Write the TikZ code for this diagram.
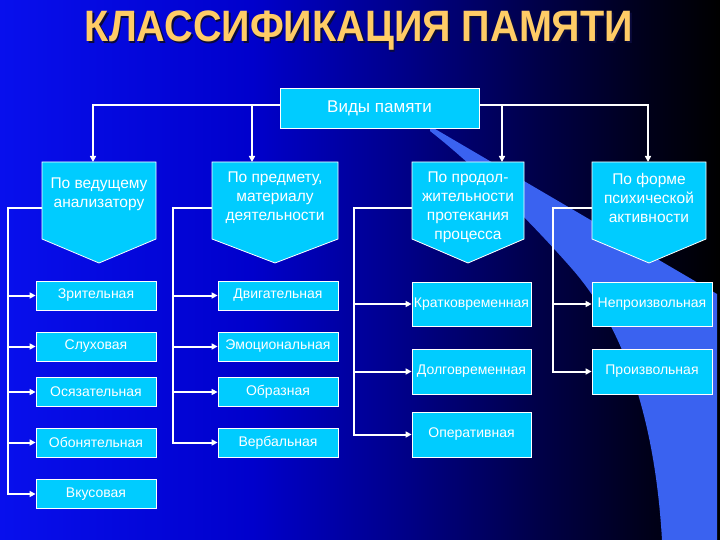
\documentclass[tikz,border=0pt]{standalone}
\usepackage{fontspec}
\setmainfont{Liberation Sans}
\usepackage{graphicx}
\usetikzlibrary{arrows.meta}

\definecolor{boxfill}{RGB}{0,204,255}
\definecolor{titlecol}{RGB}{255,204,102}
\definecolor{shadowcol}{RGB}{10,10,60}
\definecolor{bandcol}{RGB}{58,98,240}
\pgfdeclarehorizontalshading{bgshade}{100bp}{rgb(0bp)=(0.03,0.06,0.93); rgb(25bp)=(0.03,0.06,0.93); rgb(42.5bp)=(0,0,0.8); rgb(52.5bp)=(0,0,0.55); rgb(62.5bp)=(0,0,0.28); rgb(70bp)=(0,0,0.1); rgb(75bp)=(0,0,0); rgb(100bp)=(0,0,0)}
\newcommand{\hlines}[1]{\begin{tabular}[t]{@{}c@{}}#1\end{tabular}}
\newcommand{\shadowed}[1]{\rlap{\kern2pt\raisebox{-2pt}{\textcolor{shadowcol}{#1}}}\textcolor{titlecol}{#1}}

\begin{document}
\begin{tikzpicture}[x=1pt, y=-1pt,
    membox/.style={rectangle, draw=white, line width=0.8pt, fill=boxfill, text=white, font=\fontsize{14}{17}\selectfont, minimum width=120pt, minimum height=29pt, inner sep=0pt},
    headbox/.style={rectangle, text=white, font=\fontsize{15.5}{19}\selectfont, inner sep=0pt, anchor=north},
    titletext/.style={font=\fontsize{44}{50}\selectfont\bfseries, anchor=base, inner sep=0pt},
    wire/.style={draw=white, line width=2pt},
    arr/.style={wire, -{Triangle[length=6pt,width=6pt]}}
]
    % background
    \shade[shading=bgshade] (0,0) rectangle (720,540);
    \fill[bandcol] (430,126) -- (717,294) -- (717,540) -- (662,540)
        .. controls (655,420) and (625,330) .. (573,270)
        .. controls (540,232) and (480,170) .. (430,131) -- cycle;

    % title
    \node[titletext] (title) at (359,42) {\scalebox{0.9}[1]{\shadowed{КЛАССИФИКАЦИЯ ПАМЯТИ}}};

    \node[membox, minimum width=199pt, minimum height=40pt, font=\fontsize{17}{20}\selectfont] (v) at (379.5,108) {Виды памяти};

    % headers
    \foreach \n/\x/\hw/\hgt/\dpt/\txt in {1/99/57/26pt/51pt/{По ведущему\\анализатору},
        2/275/63/20pt/57pt/{По предмету,\\материалу\\деятельности},
        3/468/56/20pt/57pt/{По продол-\\жительности\\протекания\\процесса},
        4/649/57/22pt/55pt/{По форме\\психической\\активности}} {
        \filldraw[draw=white, line width=0.8pt, fill=boxfill] (\x-\hw,162) -- (\x+\hw,162)
            -- (\x+\hw,239) -- (\x,263) -- (\x-\hw,239) -- cycle;
        \node[headbox, minimum width={2*\hw}, text height=\hgt, text depth=\dpt] (h\n) at (\x,162) {\hlines{\txt}};
    }

    % column 1
    \node[membox] (z1) at (96,295.5) {Зрительная};
    \node[membox] (z2) at (96,346.5) {Слуховая};
    \node[membox] (z3) at (96,392) {Осязательная};
    \node[membox] (z4) at (96,442.5) {Обонятельная};
    \node[membox] (z5) at (96,494) {Вкусовая};
    % column 2
    \node[membox] (d1) at (278,295.5) {Двигательная};
    \node[membox] (d2) at (278,346.5) {Эмоциональная};
    \node[membox] (d3) at (278,392) {Образная};
    \node[membox] (d4) at (278,442.5) {Вербальная};
    % column 3
    \node[membox, minimum width=119pt, minimum height=44pt] (k1) at (471.5,304) {Кратковременная};
    \node[membox, minimum width=119pt, minimum height=45pt] (k2) at (471.5,371.5) {Долговременная};
    \node[membox, minimum width=119pt, minimum height=45pt] (k3) at (471.5,434.5) {Оперативная};
    % column 4
    \node[membox, minimum height=44pt] (f1) at (652,304) {Непроизвольная};
    \node[membox, minimum height=45pt] (f2) at (652,371.5) {Произвольная};

    % top connectors
    \coordinate (busl) at ([yshift=3pt]v.west);
    \coordinate (busr) at ([yshift=3pt]v.east);
    \coordinate (a2) at ([xshift=-23pt]h2.north);
    \coordinate (a3) at ([xshift=34pt]h3.north);
    \draw[arr] (busl) -| ([xshift=-6pt]h1.north);
    \draw[arr] (busl -| a2) -- (a2);
    \draw[arr] (busr) -| ([xshift=-1pt]h4.north);
    \draw[arr] (busr -| a3) -- (a3);

    % side connectors
    \coordinate (x1) at (8,0);
    \coordinate (x2) at (173,0);
    \coordinate (x3) at (354,0);
    \coordinate (x4) at (553,0);
    \draw[arr] ([yshift=-7pt]h1.west) -| (x1 |- z5.west) -- (z5.west);
    \foreach \b in {z1,z2,z3,z4}
        \draw[arr] (x1 |- \b.west) -- (\b.west);
    \draw[arr] ([yshift=-7pt]h2.west) -| (x2 |- d4.west) -- (d4.west);
    \foreach \b in {d1,d2,d3}
        \draw[arr] (x2 |- \b.west) -- (\b.west);
    \draw[arr] ([yshift=-7pt]h3.west) -| (x3 |- k3.west) -- (k3.west);
    \foreach \b in {k1,k2}
        \draw[arr] (x3 |- \b.west) -- (\b.west);
    \draw[arr] ([yshift=-7pt]h4.west) -| (x4 |- f2.west) -- (f2.west);
    \draw[arr] (x4 |- f1.west) -- (f1.west);
\end{tikzpicture}
\end{document}
